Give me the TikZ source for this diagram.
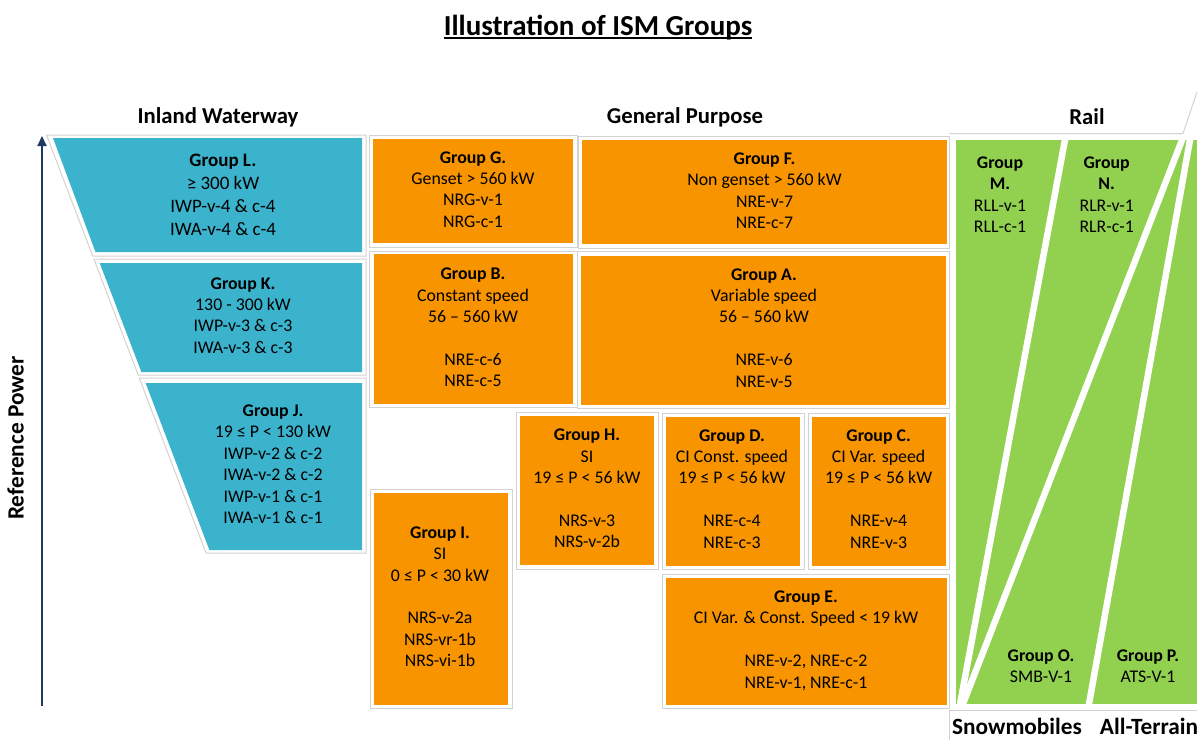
\documentclass[tikz,border=0pt]{standalone}
\usepackage{fontspec}
\setmainfont{Carlito}
\usetikzlibrary{arrows.meta}
\definecolor{wteal}{HTML}{3BB3CD}
\definecolor{gorange}{HTML}{F89400}
\definecolor{rgreen}{HTML}{92D050}
\definecolor{navyblue}{HTML}{203864}
\definecolor{framegray}{HTML}{D2D2D2}
\begin{document}
\begin{tikzpicture}[x=1pt,y=-1pt,
  frame/.style={draw=framegray, line width=1pt},
  tealfill/.style={fill=wteal},
  orangefill/.style={fill=gorange},
  txt/.style={align=center, inner sep=0pt, font=\fontsize{17.8}{21.4}\selectfont,
    execute at begin node=\strut, execute at end node=\strut},
  txtbig/.style={txt, font=\fontsize{19}{23}\selectfont},
  hdr/.style={inner sep=0pt, anchor=base, font=\fontsize{22.7}{27}\selectfont\bfseries},
  hdrbig/.style={hdr, font=\fontsize{23.3}{28}\selectfont\bfseries},
  stripe/.style={draw=white, line width=6.5pt}
]
\useasboundingbox (0,0) rectangle (1197,740);

% title
\node[inner sep=0pt, anchor=base, font=\fontsize{29}{34}\selectfont\bfseries] (title) at (598,35) {Illustration of ISM Groups};
\draw[line width=1.8pt] ([yshift=-3.3pt]title.base west) -- ([yshift=-3.3pt]title.base east);

% headers
\node[hdr] (hIW) at (218,123) {Inland Waterway};
\node[hdr] (hGP) at (685,123) {General Purpose};
\node[hdr] (hRail) at (1087,124) {Rail};
\node[hdrbig] (hSnow) at (1017,734) {Snowmobiles};
\node[hdrbig] (hAT) at (1149,734) {All-Terrain};
\node[hdrbig, rotate=90] (hRP) at (23.5,438) {Reference Power};

% axis arrow
\coordinate (abot) at (42,706);
\coordinate (atop) at (42,136);
\draw[navyblue, line width=2.3pt, -{Triangle[length=10pt,width=9pt]}] (abot) -- (atop);

% frames
\draw[frame] (46.5,135) -- (366,135) -- (366,256) -- (92.7,256) -- cycle;
\draw[frame] (93.9,259) -- (366,259) -- (366,375) -- (138.2,375) -- cycle;
\draw[frame] (139.3,378) -- (366,378) -- (366,553) -- (206,553) -- cycle;
\draw[frame] (369.5,135.5) rectangle (577,247);
\draw[frame] (578.5,136) rectangle (949,248);
\draw[frame] (369.5,251) rectangle (577,407.5);
\draw[frame] (577,251) rectangle (949,408.5);
\draw[frame] (516,412.5) rectangle (658,569);
\draw[frame] (662,413) rectangle (804,569.5);
\draw[frame] (808.5,413) rectangle (949,569.5);
\draw[frame] (370,489) rectangle (512,708.5);
\draw[frame] (662,574) rectangle (949,708.5);
\draw[frame] (949,133.5) -- (1183,133.5) -- (1197,92);
\draw[frame] (949,710.5) -- (1197,710.5);
\draw[frame] (949,710.5) -- (949,740);

% inland waterway trapezoids
\fill[tealfill] (53,138) -- (362,138) -- (362,252) -- (95.5,252) -- cycle;
\fill[tealfill] (99.7,263) -- (362,263) -- (362,372) -- (141.4,372) -- cycle;
\fill[tealfill] (145.6,383) -- (362,383) -- (362,550) -- (209.4,550) -- cycle;

% general purpose boxes
\fill[orangefill] (373,139) rectangle (573,243);
\fill[orangefill] (582,140) rectangle (947,244);
\fill[orangefill] (374,254) rectangle (573,404);
\fill[orangefill] (581,256) rectangle (946,405);
\fill[orangefill] (520,416) rectangle (654,565);
\fill[orangefill] (666,417) rectangle (800,566);
\fill[orangefill] (812,417) rectangle (946,566);
\fill[orangefill] (374,493) rectangle (508,705);
\fill[orangefill] (666,578) rectangle (947,705);

% rail area
\fill[rgreen] (956,140) rectangle (1197,704);
\begin{scope}
  \clip (956,140) rectangle (1197,704);
  \draw[stripe] (1065.7,136) -- (959.3,708);
  \draw[stripe] (1183.6,136) -- (961.4,708);
  \draw[stripe] (1190.7,136) -- (1088.3,708);
\end{scope}

% texts
\node[txtbig] (gL) at (223,198) {\textbf{Group L.}\\≥ 300 kW\\IWP-v-4 \& c-4\\IWA-v-4 \& c-4};
\node[txt] (gK) at (243,318.5) {\textbf{Group K.}\\130 - 300 kW\\IWP-v-3 \& c-3\\IWA-v-3 \& c-3};
\node[txt] (gJ) at (273,467.3) {\textbf{Group J.}\\19 ≤ P < 130 kW\\IWP-v-2 \& c-2\\IWA-v-2 \& c-2\\IWP-v-1 \& c-1\\IWA-v-1 \& c-1};
\node[txt] (gG) at (473,192.5) {\textbf{Group G.}\\Genset > 560 kW\\NRG-v-1\\NRG-c-1};
\node[txt] (gF) at (764.5,193.7) {\textbf{Group F.}\\Non genset > 560 kW\\NRE-v-7\\NRE-c-7};
\node[txt] (gB) at (473,330.8) {\textbf{Group B.}\\Constant speed\\56 – 560 kW\\ \strut\\NRE-c-6\\NRE-c-5};
\node[txt] (gA) at (764,331) {\textbf{Group A.}\\Variable speed\\56 – 560 kW\\ \strut\\NRE-v-6\\NRE-v-5};
\node[txt] (gH) at (587,491.5) {\textbf{Group H.}\\SI\\19 ≤ P < 56 kW\\ \strut\\NRS-v-3\\NRS-v-2b};
\node[txt] (gD) at (732,492) {\textbf{Group D.}\\CI Const. speed\\19 ≤ P < 56 kW\\ \strut\\NRE-c-4\\NRE-c-3};
\node[txt] (gC) at (878.6,492) {\textbf{Group C.}\\CI Var. speed\\19 ≤ P < 56 kW\\ \strut\\NRE-v-4\\NRE-v-3};
\node[txt] (gI) at (440,599.8) {\textbf{Group I.}\\SI\\0 ≤ P < 30 kW\\ \strut\\NRS-v-2a\\NRS-vr-1b\\NRS-vi-1b};
\node[txt] (gE) at (806,642.7) {\textbf{Group E.}\\CI Var. \& Const. Speed < 19 kW\\ \strut\\NRE-v-2, NRE-c-2\\NRE-v-1, NRE-c-1};
\node[txt] (gM) at (1000,198) {\textbf{Group}\\\textbf{M.}\\RLL-v-1\\RLL-c-1};
\node[txt] (gN) at (1106.7,198) {\textbf{Group}\\\textbf{N.}\\RLR-v-1\\RLR-c-1};
\node[txt] (gO) at (1041,669.5) {\textbf{Group O.}\\SMB-V-1};
\node[txt] (gP) at (1148,669.5) {\textbf{Group P.}\\ATS-V-1};
\end{tikzpicture}
\end{document}
